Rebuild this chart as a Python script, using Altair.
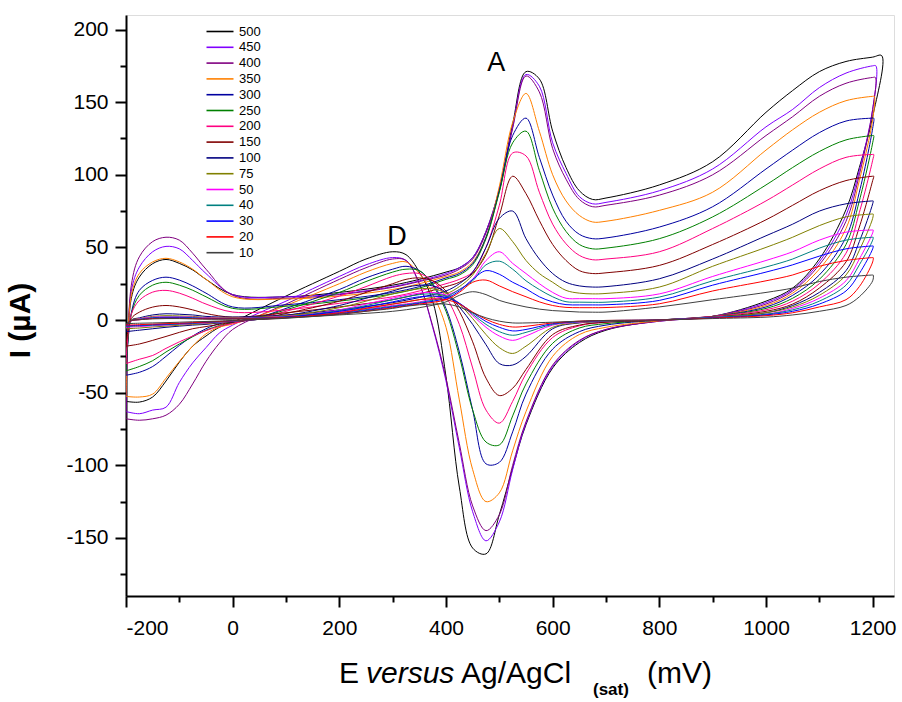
import altair as alt
import pandas as pd

scan_rates = ["500", "450", "400", "350", "300", "250", "200", "150", "100", "75", "50", "40", "30", "20", "10"]
line_colors = ["#000000", "#8000FF", "#800080", "#FF8000", "#0000A0", "#008000", "#FF0080",
               "#800000", "#000080", "#808000", "#FF00FF", "#008080", "#0000FF", "#FF0000", "#404040"]

# potential grids (mV)
E_forward = [-200, -175, -150, -125, -100, -75, -50, -25, 0, 50, 100, 200, 250, 300, 325, 350, 375, 400,
             425, 450, 475, 500, 525, 550, 600, 650, 700, 800, 900, 1000, 1050, 1100, 1150, 1175, 1200]
E_reverse = [1200, 1150, 1100, 1050, 1000, 900, 800, 700, 675, 650, 625, 600, 575, 550, 525, 500, 475,
             450, 425, 400, 350, 300, 200, 100, 0, -50, -75, -100, -125, -150, -175, -190, -200]

vertex_E = [1217, 1206, 1205, 1203, 1202, 1202, 1202, 1202, 1201, 1201, 1201, 1201, 1201, 1201, 1201]
vertex_I = [182, 175, 167, 154, 139, 127, 114, 99, 82, 73, 62, 57, 51, 43, 31]

# currents (uA) on the forward branch
fwd_500 = [-56, -56.5, -53, -42, -29, -18, -11, -5, -1.5, 7.5, 16.5, 33.5, 42, 47, 45, 33, 13, -39, -115, -157, -161, -134, -102, -72, -33, -15.5, -7, -0.5, 2.5, 13, 22, 42, 76, 105, 140]
fwd_450 = [-63, -64.5, -62, -60, -43, -29.5, -19, -9, -3.5, 5, 13, 30, 38, 43, 41, 25, -5, -42, -88, -132, -152, -139, -103, -71, -32, -14.5, -6.5, -0.8, 2.5, 12, 21, 40, 72, 103, 145]
fwd_400 = [-68, -69, -68, -65.5, -58, -44, -28.5, -16, -6.5, 3, 11, 28, 36, 42, 41, 25, -4, -40, -85, -128, -145, -134, -100, -70, -31, -14, -6.5, -0.8, 2.5, 11, 20, 38, 68, 100, 145]
fwd_350 = [-52.6, -53, -51, -40, -28.5, -18, -9.5, -4.9, -2.8, 3, 10, 25, 33, 39, 40, 32, 18, -5, -55, -103, -125, -119, -90, -63, -25, -10, -5, -0.5, 2.5, 10, 18.5, 35, 63, 96, 138]
fwd_300 = [-38, -36, -32, -25, -17.5, -11, -6, -2.5, -1.3, 2, 8, 21, 29, 35, 37, 34, 25, 8, -22, -62, -99, -98, -77, -51, -20, -8, -3.5, 0, 2.5, 9, 17, 31, 57, 88, 132]
fwd_250 = [-35, -32, -28, -22, -16.5, -11.5, -7, -3.8, -1.6, 2, 7, 19, 26.5, 33, 35, 34, 24, 6, -25, -62, -84, -86, -66, -44, -16, -5.5, -2.5, 0, 2.5, 8, 15, 28, 52, 82, 122]
fwd_200 = [-30, -27, -24.4, -19.5, -15, -11, -7.3, -4.3, -2.3, 1.5, 6, 16.5, 23, 30, 32, 32, 27, 16, -3, -33, -62, -71, -56, -37, -12, -4, -1.5, 0, 2.5, 7, 13, 25, 46, 74, 110]
fwd_150 = [-18, -16.5, -14, -11.3, -8.5, -6, -4.5, -3, -1.5, 1, 4.5, 13, 19, 25, 28, 29, 27, 20, 6, -15, -40, -52, -47, -34, -10, -3.5, -1.5, 0, 2, 6, 11, 22, 40, 64, 96]
fwd_100 = [-8, -7, -6, -5, -4.2, -3.5, -3, -2, -1.2, 0.5, 3, 10, 15, 20, 22.5, 24, 23.5, 19, 9, -3, -17, -30, -31, -25, -6, -2, -1, 0, 2, 5, 10, 19, 34, 54, 80]
fwd_75 = [-6, -5.5, -4.8, -4.2, -3.6, -3, -2.5, -1.8, -1, 0.5, 2.5, 8.5, 13, 18, 20, 21.5, 21.5, 18.5, 11, 1, -10, -19, -23, -18, -5, -1.8, -0.8, 0, 2, 5, 9, 17, 31, 48, 70]
fwd_50 = [-5, -4.5, -4, -3.5, -3, -2.5, -2, -1.5, -0.8, 0.5, 2, 7, 11, 15, 17, 18.5, 19, 17, 11.5, 3, -5, -11, -14, -11, -3.5, -1.5, -0.5, 0, 1.8, 4, 8, 15, 27, 42, 60]
fwd_40 = [-4.5, -4, -3.6, -3.2, -2.8, -2.3, -1.8, -1.3, -0.7, 0.5, 2, 6.5, 10, 14, 16, 17.5, 18, 16.5, 11.5, 4, -3, -8, -10.5, -8.5, -3, -1.2, -0.5, 0, 1.8, 4, 7, 13, 24, 38, 55]
fwd_30 = [-4, -3.6, -3.2, -2.8, -2.4, -2, -1.6, -1.1, -0.6, 0.5, 1.8, 6, 9, 12.5, 14.5, 16, 16.5, 15.5, 11.5, 5, -1, -5, -7.5, -6.5, -2.5, -1, -0.4, 0, 1.5, 3.5, 6, 11, 20, 32, 49]
fwd_20 = [-3.5, -3.2, -2.8, -2.5, -2.2, -1.8, -1.4, -1, -0.5, 0.5, 1.5, 5, 8, 11, 12.5, 14, 14.5, 14, 11, 5.5, 0.5, -3, -4.8, -4.3, -2, -0.8, -0.3, 0, 1.3, 3, 5, 9, 14, 23, 40]
fwd_10 = [-2.5, -2.2, -2, -1.8, -1.5, -1.2, -1, -0.7, -0.3, 0.4, 1.2, 4, 6, 8, 9.5, 10.5, 11, 11, 9, 5, 1.5, -0.8, -2, -2, -1.5, -0.8, -0.3, 0, 1, 2, 3.5, 6, 10, 16, 27]

# currents (uA) on the reverse branch
rev_500 = [181, 178, 171, 158, 143, 109, 93, 84, 83, 89, 105, 130, 166, 171, 135, 90, 61, 43, 36, 33, 28, 24, 19, 16, 17.5, 28, 34.5, 39, 41.7, 38.8, 29.6, 15, -56]
rev_450 = [175, 170, 160, 145, 133, 104, 89, 81, 80, 85, 101, 122, 161, 169, 133, 90, 61, 43, 36, 32, 27, 23, 18, 16, 17.5, 32, 41, 49, 50.7, 47, 36.4, 20, -63]
rev_400 = [167, 163, 154, 140, 127, 100, 86, 79, 78, 83, 97, 118, 157, 168, 132, 89, 60, 42, 35, 31, 26.5, 22.5, 17.5, 15, 17, 35, 46, 55, 57, 54, 43.5, 24, -68]
rev_350 = [154, 151, 143, 131, 117, 88, 75.5, 68, 67.5, 72, 82, 100, 130, 156, 136, 92, 57, 40, 33, 30, 25, 21, 16.5, 14.5, 16, 28, 35, 40, 42.5, 40, 32, 17, -52.6]
rev_300 = [139, 137, 129, 117, 104, 78, 64, 56.5, 56, 59, 68, 86, 112, 139, 127, 89, 57, 39, 32, 29, 23, 19, 14, 10.5, 9, 18.5, 23.5, 27.5, 29.5, 27.3, 20.4, 5, -38]
rev_250 = [127, 124, 116, 105, 93, 71, 56, 49.5, 49, 52, 61, 77, 103, 130, 122, 88, 56, 38, 31, 28, 22, 18, 13, 9.5, 8, 16, 20.5, 24, 26, 24, 17, 4, -35]
rev_200 = [114, 112, 104, 93, 82, 63, 47, 42, 41.5, 44.5, 52.5, 66, 88, 113, 115, 79, 50, 33, 28, 25, 20, 16, 11.5, 7, 5.5, 11, 15, 18.5, 20.4, 19.2, 13.5, 4, -30]
rev_150 = [99, 96, 89, 79, 69, 52, 37.6, 32.5, 32, 34, 41, 52, 68.5, 87, 99, 72, 45, 32, 26, 23, 18, 14, 9, 5, 2, 4.5, 7, 9, 10, 8.9, 5.4, 1, -18]
rev_100 = [82, 80, 75, 66, 58, 42, 28.4, 23, 22.7, 23.5, 26, 32, 42, 56, 75, 70, 50, 33, 25, 20, 15.5, 12, 7, 3.5, 2, 2.5, 3.5, 4, 4.3, 3.5, 1.5, 0, -8]
rev_75 = [73, 71, 65, 57, 50, 37, 22.7, 18.3, 18, 18.5, 20.4, 26, 32, 41, 54, 63, 46, 31, 23, 18, 14, 11, 6, 3, 1.5, 1.8, 2.5, 2.8, 3, 2.5, 1, 0, -6]
rev_50 = [62, 60.5, 55, 47, 41, 30, 18, 14.7, 14.7, 14.7, 15, 19, 25, 32, 39, 47, 41, 28, 21, 17, 12.5, 10, 5.5, 2.5, 1.2, 1.5, 2, 2.2, 2.2, 2, 0.8, -0.5, -5]
rev_40 = [57, 55, 49.5, 42, 36.5, 27, 15.8, 12.3, 12.2, 12.3, 12.6, 16, 21, 27, 35, 40.5, 38, 27, 21, 16, 12, 9.5, 5, 2.2, 1, 1.2, 1.6, 2, 2, 1.6, 0.5, -0.5, -4.5]
rev_30 = [51, 49, 44, 38, 33, 24, 13.5, 10.5, 10.4, 10.4, 10.6, 12.5, 16, 21.5, 26, 31.5, 34, 28, 20, 15, 11.5, 9, 4.5, 2, 1, 1, 1.3, 1.6, 1.6, 1.3, 0.3, -0.5, -4]
rev_20 = [43, 41, 37, 31, 27, 20, 11.2, 8.6, 8.5, 8.5, 8.7, 10, 12.5, 16, 19.5, 23.5, 27.5, 26, 19, 14, 11, 8.5, 4, 1.8, 0.8, 0.8, 1, 1.2, 1.2, 1, 0.2, -0.5, -3.5]
rev_10 = [31, 29.5, 26.5, 22, 19, 14, 9, 5.5, 5.4, 5.5, 6, 6.5, 7.5, 9, 11, 13.5, 17.5, 19.5, 17, 12.5, 8.5, 6, 3.5, 1.5, 0.6, 0.6, 0.8, 1, 1, 0.8, 0.2, -0.3, -2.5]

forward = [fwd_500, fwd_450, fwd_400, fwd_350, fwd_300, fwd_250, fwd_200, fwd_150,
           fwd_100, fwd_75, fwd_50, fwd_40, fwd_30, fwd_20, fwd_10]
reverse = [rev_500, rev_450, rev_400, rev_350, rev_300, rev_250, rev_200, rev_150,
           rev_100, rev_75, rev_50, rev_40, rev_30, rev_20, rev_10]

peak_labels = ["A", "D"]
peak_label_E = [494, 308]
peak_label_I = [177, 57.5]

rows = []
for k, rate in enumerate(scan_rates):
    assert len(forward[k]) == len(E_forward) and len(reverse[k]) == len(E_reverse)
    seq = list(zip(E_forward, forward[k])) + [(vertex_E[k], vertex_I[k])] + list(zip(E_reverse, reverse[k]))
    for i, (e, c) in enumerate(seq):
        rows.append({"rate": rate, "E": e, "I": c, "step": i})
df = pd.DataFrame(rows)

FONT = "Liberation Sans"
x_scale = alt.Scale(domain=[-200, 1240], nice=False, zero=False)
y_scale = alt.Scale(domain=[-190, 210], nice=False, zero=False)
neg_fix = "datum.value < 0 ? '-' + format(-datum.value, 'd') : format(datum.value, 'd')"

x_axis = alt.Axis(values=[-200, 0, 200, 400, 600, 800, 1000, 1200], labelExpr=neg_fix, tickSize=11,
                  tickWidth=2, tickColor="black", domainWidth=2, domainColor="black", labelFontSize=21,
                  labelColor="black", labelPadding=10, grid=False, title=None, labelFont=FONT)
y_axis = alt.Axis(values=[-150, -100, -50, 0, 50, 100, 150, 200], labelExpr=neg_fix, tickSize=11,
                  tickWidth=2, tickColor="black", domainWidth=2, domainColor="black", labelFontSize=21,
                  labelColor="black", labelPadding=7, grid=False, title="I (µA)", titleFontSize=30,
                  titleFontWeight="bold", titleColor="black", titleFont=FONT, titleAngle=270,
                  titleX=-106, titleY=305, titleAlign="center", titleBaseline="middle", labelFont=FONT)

legend = alt.Legend(orient="none", legendX=96, legendY=10, title=None, symbolType="M-4.4,0H1",
                    symbolSize=100, symbolStrokeWidth=1.6, labelFontSize=13, labelOffset=4,
                    rowPadding=1.8, padding=0, labelColor="black", labelFont=FONT)

curves = alt.Chart(df).mark_line(strokeWidth=1, interpolate="catmull-rom", clip=True).encode(
    x=alt.X("E:Q", scale=x_scale, axis=x_axis),
    y=alt.Y("I:Q", scale=y_scale, axis=y_axis),
    color=alt.Color("rate:N", scale=alt.Scale(domain=scan_rates, range=line_colors), legend=legend),
    order=alt.Order("step:Q"),
)

minor_x = [-100, 100, 300, 500, 700, 900, 1100]
minor_y = [-175, -125, -75, -25, 25, 75, 125, 175]
minor = alt.Chart(pd.DataFrame({"E": [0], "I": [0]})).mark_point(opacity=0).encode(
    x=alt.X("E:Q", scale=x_scale, axis=alt.Axis(orient="bottom", values=minor_x, labels=False, tickSize=6,
                                                tickWidth=2, tickColor="black", domain=False, grid=False, title=None)),
    y=alt.Y("I:Q", scale=y_scale, axis=alt.Axis(orient="left", values=minor_y, labels=False, tickSize=6,
                                                tickWidth=2, tickColor="black", domain=False, grid=False, title=None)),
)

ann = alt.Chart(pd.DataFrame({"E": peak_label_E, "I": peak_label_I, "t": peak_labels})).mark_text(
    fontSize=27, font=FONT, color="black", baseline="middle", align="center").encode(
    x=alt.X("E:Q", scale=x_scale, axis=None), y=alt.Y("I:Q", scale=y_scale, axis=None), text="t:N")


def piece(txt, x, y, size, style="normal", weight="normal"):
    return alt.Chart(pd.DataFrame({"k": [0]})).mark_text(
        align="left", baseline="alphabetic", fontSize=size, fontStyle=style, fontWeight=weight,
        font=FONT, color="black").encode(x=alt.value(x), y=alt.value(y), text=alt.value(txt))


title_parts = [
    piece("E", 213, 668, 30),
    piece("versus", 240, 668, 30, style="italic"),
    piece("Ag/AgCl", 335, 668, 30),
    piece("(sat)", 467, 680, 17, weight="bold"),
    piece("(mV)", 521, 668, 30),
]

chart = alt.layer(curves, minor, ann, *title_parts).resolve_axis(
    x="independent", y="independent"
).properties(
    width=768, height=581,
    autosize=alt.AutoSizeParams(type="none"),
    padding={"left": 126, "top": 15, "right": 8, "bottom": 106},
).configure_view(stroke="black", strokeWidth=2).configure(font=FONT)

chart.save("out.html", embed_options={"renderer": "svg", "actions": False})
